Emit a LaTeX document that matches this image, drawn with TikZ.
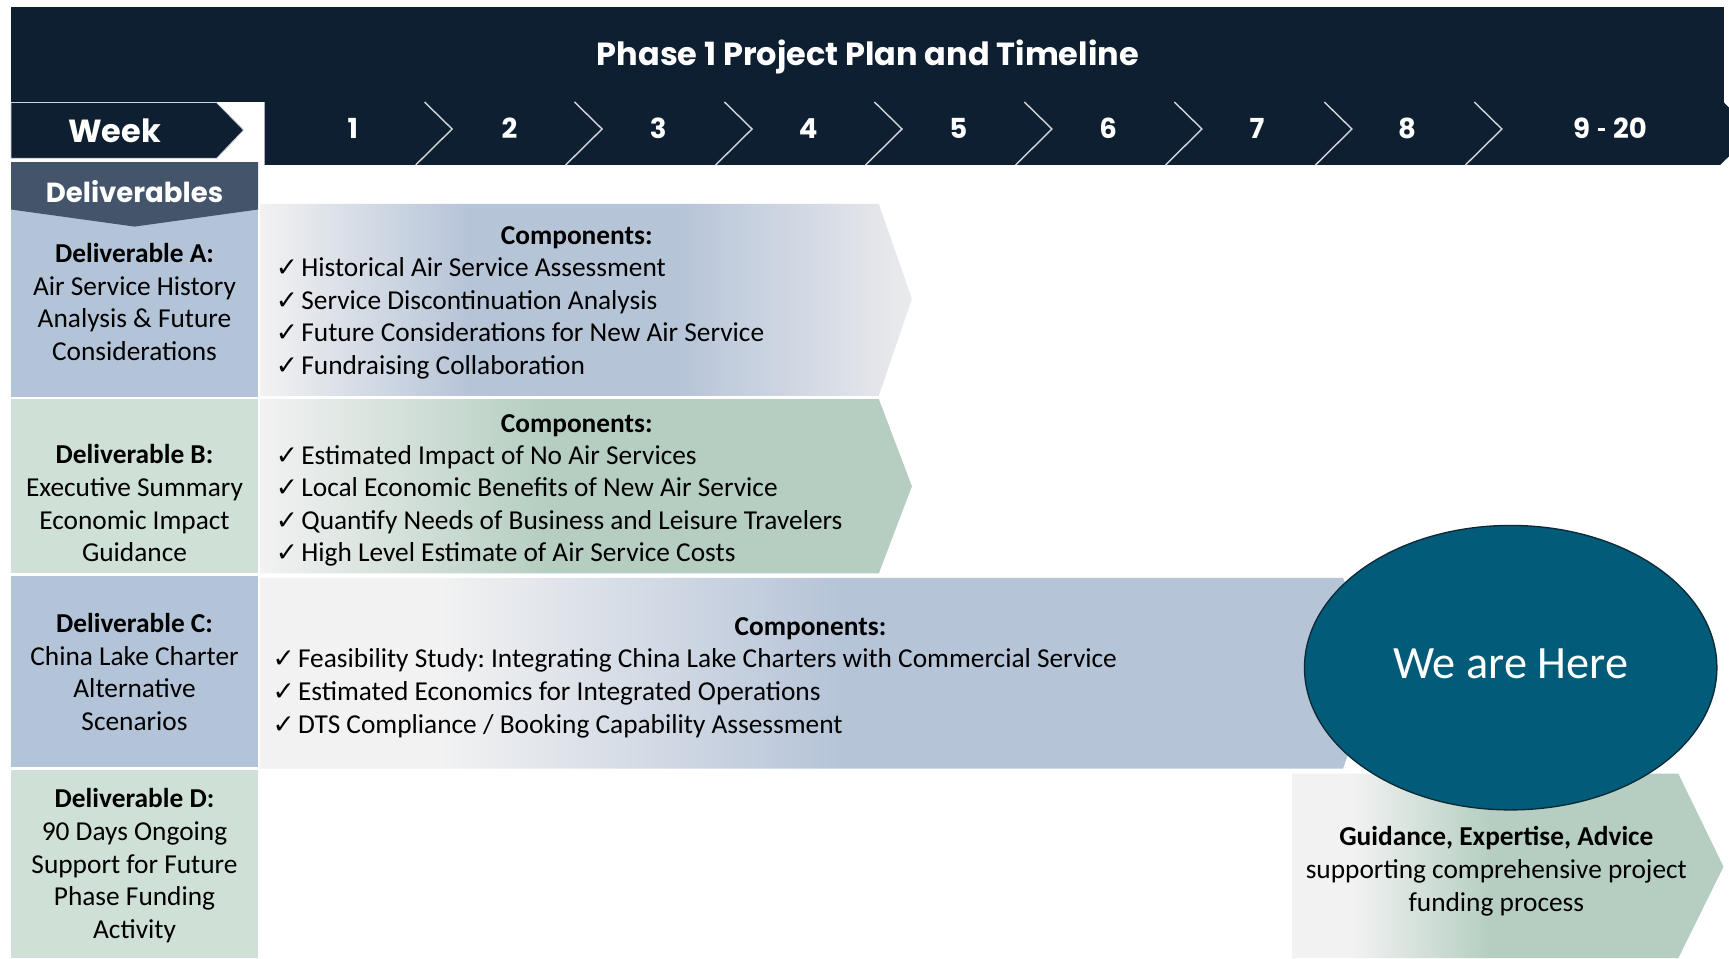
\documentclass[tikz,border=0pt]{standalone}
\usepackage{fontspec}
\setmainfont{Carlito}
\newfontfamily\headfont{Poppins}
\newfontfamily\symfont{DejaVu Sans}
\usetikzlibrary{shapes.geometric}

\definecolor{navy}{HTML}{0E1F31}
\definecolor{slate}{HTML}{44546A}
\definecolor{bluecell}{HTML}{B4C4D8}
\definecolor{greencell}{HTML}{CFE0D7}
\definecolor{bluebar}{HTML}{B6C4D8}
\definecolor{greenbar}{HTML}{B5CEC1}
\definecolor{lightbar}{HTML}{F2F2F2}
\definecolor{fadegray}{HTML}{EBEBED}
\definecolor{hereblue}{HTML}{025B78}
\definecolor{hereline}{HTML}{0B2A38}
\definecolor{chev}{HTML}{D0D4D9}

% horizontal fills of the four bars (the path spans 25bp..75bp)
\pgfdeclarehorizontalshading{barA}{100bp}{color(0bp)=(lightbar); color(25bp)=(lightbar);
  color(41bp)=(bluebar); color(57bp)=(bluebar); color(75bp)=(fadegray); color(100bp)=(fadegray)}
\pgfdeclarehorizontalshading{barB}{100bp}{color(0bp)=(lightbar); color(25bp)=(lightbar);
  color(47bp)=(greenbar); color(75bp)=(greenbar); color(100bp)=(greenbar)}
\pgfdeclarehorizontalshading{barC}{100bp}{color(0bp)=(lightbar); color(25bp)=(lightbar);
  color(33bp)=(lightbar); color(51bp)=(bluebar); color(75bp)=(bluebar); color(100bp)=(bluebar)}
\pgfdeclarehorizontalshading{barD}{100bp}{color(0bp)=(lightbar); color(25bp)=(lightbar);
  color(32bp)=(lightbar); color(48bp)=(greenbar); color(75bp)=(greenbar); color(100bp)=(greenbar)}

\newcommand\chk{{\symfont\fontsize{24}{24}\selectfont ✓}\hspace{3pt}}
\frenchspacing

\begin{document}
\begin{tikzpicture}[x=1pt,y=-1pt,
  body/.style={text=black, inner sep=0pt, font=\fontsize{24.8}{29.6}\selectfont},
  celltext/.style={body, align=center},
  item/.style={body, anchor=base west},
  comphead/.style={body, font=\fontsize{24.8}{29.6}\selectfont\bfseries},
  hdr/.style={text=white, inner sep=0pt, font=\headfont\bfseries\fontsize{29}{34}\selectfont},
  weeknum/.style={text=white, inner sep=0pt, font=\headfont\bfseries\fontsize{25}{30}\selectfont},
  chevline/.style={draw=chev, line width=1.3pt},
]
\useasboundingbox (0,0) rectangle (1568,869);
\fill[white] (0,0) rectangle (1568,869);

% ---- title band and week row ----
\fill[navy] (10,6) rectangle (1563,92.5);
\fill[navy] (240,92.5) -- (1563,92.5) -- (1590,120) -- (1560,149.6) -- (240,149.6) -- cycle;
\fill[navy, draw=chev, line width=0.8pt] (10,93) -- (196.5,93) -- (221,118) -- (196.5,143.6) -- (10,143.6) -- cycle;
\node[hdr] (title) at (787,51.5) {Phase 1 Project Plan and Timeline};
\node[hdr] (week) at (104,119) {Week};

\foreach \t in {410,546,682,818,954,1090,1226,1362}
  \draw[chevline] (\t-25,92.5) -- (\t,117) -- (\t-33,149.6);

\node[weeknum] (w1) at (320,116.5) {1};
\node[weeknum] (w2) at (462,116.5) {2};
\node[weeknum] (w3) at (597,116.5) {3};
\node[weeknum] (w4) at (733,116.5) {4};
\node[weeknum] (w5) at (869,116.5) {5};
\node[weeknum] (w6) at (1005,116.5) {6};
\node[weeknum] (w7) at (1140,116.5) {7};
\node[weeknum] (w8) at (1276,116.5) {8};
\node[weeknum] (w9) at (1460,116.5) {9\hspace{7pt}\raisebox{0.5ex}{\rule{7pt}{2.6pt}}\hspace{7pt}20};

% ---- deliverable cells ----
\fill[bluecell] (10,185) rectangle (234,360);
\fill[greencell] (10,362) rectangle (234,520);
\fill[bluecell] (10,522) rectangle (234,695.5);
\fill[greencell] (10,698) rectangle (234,869);
\fill[slate] (10,147) -- (234,147) -- (234,190) -- (122,205.5) -- (10,190) -- cycle;
\node[hdr, font=\headfont\bfseries\fontsize{25}{30}\selectfont] (deliv) at (122,174) {Deliverables};

\node[celltext] (dA) at (122,274) {\textbf{Deliverable A:}\\Air Service History\\Analysis \& Future\\Considerations};
\node[celltext] (dB) at (122,456.5) {\textbf{Deliverable B:}\\Executive Summary\\Economic Impact\\Guidance};
\node[celltext] (dC) at (122,609.5) {\textbf{Deliverable C:}\\China Lake Charter\\Alternative\\Scenarios};
\node[celltext] (dD) at (122,785) {\textbf{Deliverable D:}\\90 Days Ongoing\\Support for Future\\Phase Funding\\Activity};

% ---- component bars ----
\shade[shading=barA] (236,185) -- (797,185) -- (827,271) -- (797,359) -- (236,359) -- cycle;
\shade[shading=barB] (236,362) -- (797,362) -- (827,441) -- (797,520) -- (236,520) -- cycle;
\shade[shading=barC] (236,524) -- (1218,524) -- (1248,611) -- (1218,697) -- (236,697) -- cycle;
\shade[shading=barD] (1172,701.5) -- (1522,701.5) -- (1563,786) -- (1522,869) -- (1172,869) -- cycle;

\node[comphead] (cA) at (523,216) {Components:};
\node[item] (a1) at (250,251) {\chk Historical Air Service Assessment};
\node[item] (a2) at (250,281) {\chk Service Discontinuation Analysis};
\node[item] (a3) at (250,310) {\chk Future Considerations for New Air Service};
\node[item] (a4) at (250,340) {\chk Fundraising Collaboration};

\node[comphead] (cB) at (523,386) {Components:};
\node[item] (b1) at (250,421) {\chk Estimated Impact of No Air Services};
\node[item] (b2) at (250,450) {\chk Local Economic Benefits of New Air Service};
\node[item] (b3) at (250,480) {\chk Quantify Needs of Business and Leisure Travelers};
\node[item] (b4) at (250,509) {\chk High Level Estimate of Air Service Costs};

\node[comphead] (cC) at (735,570) {Components:};
\node[item] (c1) at (247,605) {\chk Feasibility Study: Integrating China Lake Charters with Commercial Service};
\node[item] (c2) at (247,635) {\chk Estimated Economics for Integrated Operations};
\node[item] (c3) at (247,665) {\chk DTS Compliance / Booking Capability Assessment};

\node[celltext] (gD) at (1357,790) {\textbf{Guidance, Expertise, Advice}\\supporting comprehensive project\\funding process};

% ---- current position marker ----
\node[ellipse, draw=hereline, line width=1.2pt, fill=hereblue, minimum width=374pt, minimum height=258pt, inner sep=0pt] (here) at (1370,605.5) {};
\node[text=white, inner sep=0pt, font=\fontsize{42}{48}\selectfont] (heretext) at (1370,602) {We are Here};
\end{tikzpicture}
\end{document}
